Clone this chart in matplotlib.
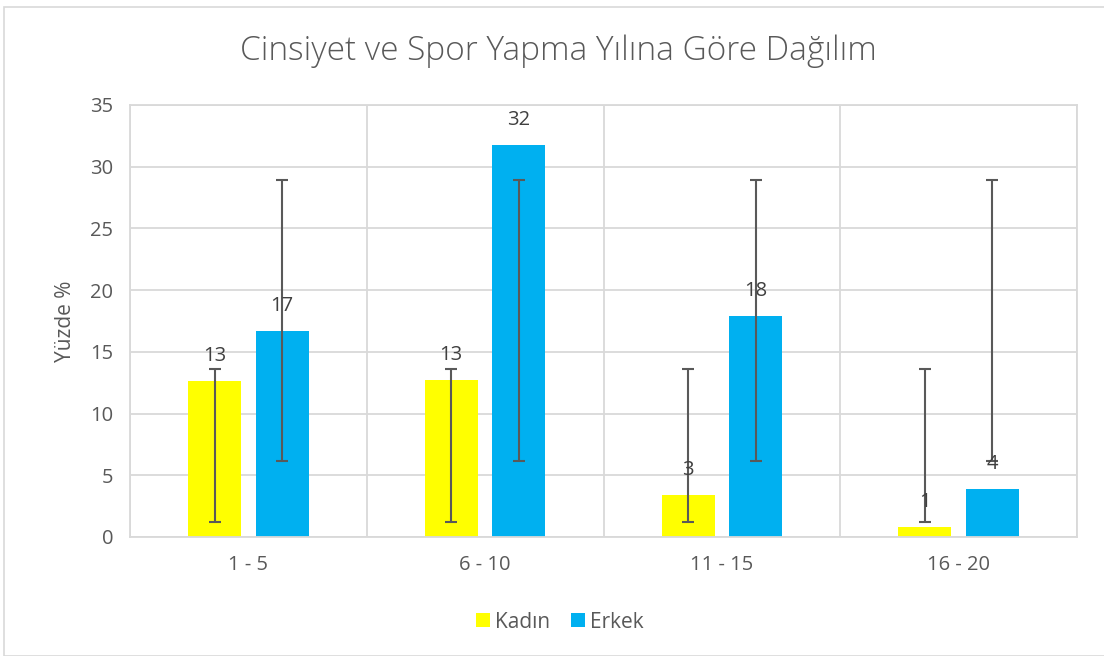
import matplotlib
matplotlib.use("Agg")
import matplotlib.pyplot as plt
import numpy as np
from matplotlib.patches import Rectangle

categories = ["1 - 5", "6 - 10", "11 - 15", "16 - 20"]
kadin = [12.64, 12.72, 3.38, 0.78]
erkek = [16.67, 31.77, 17.9, 3.89]
kadin_err_low = [1.19, 1.19, 1.19, 1.19]
kadin_err_high = [13.59, 13.59, 13.59, 13.59]
erkek_err_low = [6.18, 6.18, 6.18, 6.18]
erkek_err_high = [28.93, 28.93, 28.93, 28.93]
yticks = [0, 5, 10, 15, 20, 25, 30, 35]

plt.rcParams['font.family'] = ['Open Sans', 'DejaVu Sans']
text_color = '#595959'
grid_color = '#D9D9D9'

fig = plt.figure(figsize=(11.04, 6.56), dpi=100)
fig.patches.append(Rectangle((4/1104, 0), 1.2, 1 - 7/656, transform=fig.transFigure,
                             fill=False, edgecolor='#D9D9D9', linewidth=1.2))
ax = fig.add_axes([130/1104, 1 - 537/656, (1077 - 130)/1104, (537 - 105)/656])

x = np.arange(len(categories))
off = 0.143
w = 0.224
kb = ax.bar(x - off, kadin, w, color='#FFFF00', label='Kadın', zorder=2)
eb = ax.bar(x + off, erkek, w, color='#00B0F0', label='Erkek', zorder=2)

for xs, lo, hi in [(x - off, kadin_err_low, kadin_err_high),
                   (x + off, erkek_err_low, erkek_err_high)]:
    lo = np.array(lo); hi = np.array(hi)
    mid = (lo + hi) / 2
    ax.errorbar(xs, mid, yerr=(hi - lo) / 2, fmt='none', ecolor='#595959',
                elinewidth=1.5, capsize=4.5, capthick=1.5, zorder=3)

for xs, vals in [(x - off, kadin), (x + off, erkek)]:
    for xi, v in zip(xs, vals):
        ax.annotate(f"{v:.0f}", (xi, v), xytext=(0, 18), textcoords='offset points',
                    ha='center', va='center', fontsize=14.5, color='#404040', zorder=4)

ax.set_xlim(-0.5, len(categories) - 0.5)
ax.set_ylim(0, 35)
ax.set_yticks(yticks)
ax.set_yticklabels([str(t) for t in yticks])
ax.set_xticks(x)
ax.set_xticklabels(categories)
ax.set_xticks(np.arange(-0.5, len(categories), 1.0), minor=True)
ax.tick_params(axis='both', which='both', length=0, colors=text_color, labelsize=14.5)
ax.tick_params(axis='y', pad=12)
ax.tick_params(axis='x', pad=13)
ax.grid(axis='y', which='major', color=grid_color, linewidth=1.3, zorder=0)
ax.grid(axis='x', which='minor', color=grid_color, linewidth=1.3, zorder=0)
ax.grid(axis='x', which='major', visible=False)
for s in ax.spines.values():
    s.set_color(grid_color)
    s.set_linewidth(1.3)

ax.set_ylabel('Yüzde %', fontsize=15, color=text_color, labelpad=10)
fig.text(558/1104, 1 - 51/656, 'Cinsiyet ve Spor Yapma Yılına Göre Dağılım', ha='center', va='center',
         fontsize=24, color=text_color, fontweight='light')

leg = fig.legend(handles=[kb, eb], labels=['Kadın', 'Erkek'], loc='center',
                 bbox_to_anchor=(560/1104, 1 - 622/656), ncol=2, frameon=False,
                 fontsize=15, handlelength=0.65, handleheight=0.65, handletextpad=0.25,
                 columnspacing=1.0, labelcolor=text_color)

fig.savefig('out.png', dpi=100)
